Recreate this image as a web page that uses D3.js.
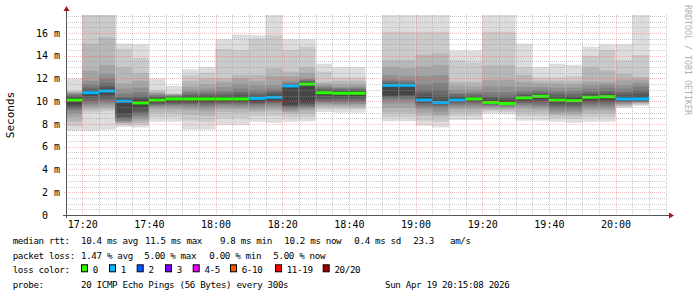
<!DOCTYPE html>
<html>
<head>
<meta charset="utf-8">
<script src="https://cdn.jsdelivr.net/npm/d3@7"></script>
<style>
  body { margin: 0; background: #fff; }
  text { font-family: "DejaVu Sans Mono", monospace; fill: #000; }
</style>
</head>
<body>
<div id="chart"></div>
<script>
// time window of the graph (3 hours, 5 minute steps)
const startTime = new Date(2026, 3, 19, 17, 15, 8);
const endTime = new Date(2026, 3, 19, 20, 15, 8);
const firstStep = new Date(2026, 3, 19, 17, 15, 0);
const stepMinutes = 5;

// median rtt per step (ms), null = no data
const medians = [10.1, 10.75, 10.9, 10.0, 9.85, 10.1, 10.2, 10.2, 10.2, 10.2,
  10.2, 10.25, 10.35, 11.35, 11.5, 10.75, 10.7, 10.7, null, 11.4,
  11.4, 10.1, 9.9, 10.1, 10.2, 9.9, 9.8, 10.3, 10.43, 10.1,
  10.05, 10.35, 10.4, 10.2, 10.2, null];

// lost pings per step (out of 20)
const losses = [0, 1, 1, 1, 0, 0, 0, 0, 0, 0,
  0, 1, 1, 1, 0, 0, 0, 0, null, 1,
  1, 1, 1, 1, 0, 0, 0, 0, 0, 0,
  0, 0, 0, 1, 1, null];

// sorted ping times per step (ms), drawn as the smoke
const pings = [
  [7.4, 7.8, 8.2, 8.6, 8.9, 9.2, 9.35, 9.5, 9.7, 10.0, 10.2, 10.3, 10.4, 10.5, 10.6, 10.7, 10.8, 10.85, 10.93, 12.0],
  [7.4, 9.0, 9.2, 9.4, 9.6, 9.8, 10.0, 10.3, 10.5, 10.7, 10.8, 10.9, 11.0, 11.2, 11.5, 11.8, 12.7, 15.06, 18.5, 19.5],
  [7.5, 9.1, 9.3, 9.5, 9.7, 9.9, 10.1, 10.3, 10.6, 10.85, 10.95, 11.1, 11.3, 11.6, 12.0, 12.4, 13.2, 15.6, 18.5, 19.5],
  [7.74, 7.9, 8.03, 8.1, 8.2, 8.3, 8.47, 8.6, 8.9, 9.9, 10.1, 10.17, 10.25, 10.4, 10.66, 11.1, 11.55, 13.0, 14.62, 15.06],
  [7.7, 7.9, 8.1, 8.3, 8.5, 8.7, 8.9, 9.1, 9.4, 9.75, 9.95, 10.1, 10.3, 10.5, 10.8, 11.2, 11.8, 12.5, 13.8, 15.0],
  [8.2, 8.6, 9.0, 9.3, 9.5, 9.6, 9.7, 9.8, 9.9, 10.05, 10.15, 10.25, 10.35, 10.45, 10.55, 10.65, 10.75, 10.85, 11.0, 12.0],
  [8.2, 8.6, 9.0, 9.3, 9.5, 9.65, 9.75, 9.85, 9.95, 10.1, 10.25, 10.3, 10.4, 10.45, 10.5, 10.55, 10.6, 10.65, 10.7, 11.35],
  [7.5, 8.3, 8.8, 9.2, 9.4, 9.6, 9.75, 9.85, 9.95, 10.1, 10.3, 10.4, 10.5, 10.6, 10.8, 11.0, 11.3, 11.8, 12.3, 12.8],
  [7.5, 8.2, 8.7, 9.1, 9.35, 9.55, 9.7, 9.85, 9.95, 10.1, 10.3, 10.4, 10.5, 10.65, 10.85, 11.1, 11.5, 12.0, 12.5, 13.0],
  [7.9, 8.5, 9.05, 9.3, 9.5, 9.7, 9.8, 9.9, 10.0, 10.1, 10.3, 10.4, 10.5, 10.7, 10.9, 11.25, 11.7, 12.0, 14.6, 15.45],
  [7.9, 8.5, 9.0, 9.3, 9.5, 9.65, 9.8, 9.9, 10.0, 10.1, 10.3, 10.4, 10.6, 10.8, 11.1, 11.5, 12.0, 12.3, 14.5, 15.85],
  [8.2, 8.7, 9.05, 9.2, 9.4, 9.6, 9.75, 9.85, 10.0, 10.2, 10.3, 10.4, 10.5, 10.7, 11.0, 11.4, 11.8, 12.3, 15.5, 15.8],
  [8.1, 8.7, 9.1, 9.3, 9.5, 9.7, 9.85, 9.95, 10.1, 10.3, 10.4, 10.55, 10.7, 10.9, 11.1, 11.4, 12.2, 12.9, 15.8, 18.5],
  [8.2, 8.6, 8.9, 9.05, 9.2, 9.35, 9.5, 9.6, 9.7, 11.3, 11.4, 11.45, 11.5, 11.55, 11.6, 11.8, 12.2, 12.6, 14.5, 15.45],
  [8.24, 8.6, 8.9, 9.2, 9.35, 9.5, 9.6, 9.75, 9.9, 11.45, 11.55, 11.6, 11.7, 11.8, 11.9, 12.0, 12.5, 13.0, 14.8, 15.45],
  [9.05, 9.3, 9.5, 9.65, 9.8, 9.9, 10.0, 10.2, 10.5, 10.7, 10.8, 10.9, 11.0, 11.1, 11.25, 11.4, 11.55, 11.7, 12.6, 13.3],
  [9.0, 9.3, 9.5, 9.6, 9.75, 9.9, 10.05, 10.25, 10.45, 10.65, 10.75, 10.85, 10.95, 11.05, 11.15, 11.25, 11.5, 11.8, 12.1, 13.0],
  [9.0, 9.3, 9.45, 9.6, 9.75, 9.9, 10.05, 10.25, 10.45, 10.65, 10.75, 10.85, 10.95, 11.05, 11.15, 11.3, 11.5, 11.8, 12.1, 13.0],
  null,
  [8.25, 8.6, 9.0, 9.4, 9.8, 10.1, 10.3, 10.4, 10.5, 11.35, 11.45, 11.5, 11.6, 11.7, 11.9, 12.3, 13.0, 13.6, 16.1, 18.5],
  [8.25, 8.6, 9.0, 9.4, 9.8, 10.1, 10.3, 10.45, 10.55, 11.35, 11.45, 11.5, 11.55, 11.65, 11.85, 12.2, 12.9, 13.6, 16.1, 18.5],
  [7.85, 8.3, 8.7, 9.0, 9.3, 9.5, 9.7, 9.85, 9.95, 10.05, 10.15, 10.4, 10.7, 11.0, 11.5, 12.2, 13.05, 14.1, 16.1, 18.5],
  [7.7, 8.2, 8.6, 8.8, 9.1, 9.4, 9.6, 9.75, 9.85, 9.88, 9.92, 10.1, 10.5, 11.0, 11.6, 12.3, 13.2, 14.2, 16.1, 18.5],
  [8.35, 8.7, 9.0, 9.3, 9.5, 9.65, 9.8, 9.9, 10.0, 10.05, 10.15, 10.3, 10.45, 10.6, 10.7, 11.0, 11.4, 11.7, 13.6, 14.45],
  [8.35, 8.7, 9.0, 9.3, 9.5, 9.7, 9.85, 9.95, 10.05, 10.15, 10.25, 10.35, 10.45, 10.6, 10.75, 11.0, 11.3, 11.7, 13.4, 14.45],
  [8.9, 9.1, 9.25, 9.35, 9.5, 9.6, 9.7, 9.8, 9.85, 9.9, 9.95, 10.1, 10.3, 10.5, 10.8, 11.3, 11.85, 13.15, 16.1, 18.5],
  [8.85, 9.05, 9.2, 9.35, 9.45, 9.55, 9.65, 9.7, 9.75, 9.8, 9.85, 10.05, 10.25, 10.5, 10.8, 11.3, 11.9, 13.2, 16.1, 18.5],
  [8.3, 8.7, 9.0, 9.35, 9.55, 9.7, 9.85, 9.95, 10.1, 10.25, 10.35, 10.45, 10.55, 10.7, 10.9, 11.25, 11.7, 12.3, 13.0, 15.06],
  [8.3, 8.7, 9.0, 9.25, 9.45, 9.6, 9.8, 10.0, 10.2, 10.4, 10.46, 10.55, 10.65, 10.8, 11.0, 11.25, 11.55, 11.8, 12.1, 13.0],
  [8.2, 8.5, 8.75, 8.9, 9.1, 9.3, 9.5, 9.7, 9.9, 10.05, 10.15, 10.3, 10.5, 10.7, 10.9, 11.2, 11.55, 11.8, 12.1, 13.3],
  [8.1, 8.45, 8.7, 8.9, 9.1, 9.3, 9.5, 9.7, 9.9, 10.0, 10.1, 10.25, 10.45, 10.65, 10.9, 11.2, 11.5, 11.8, 12.2, 13.2],
  [8.2, 8.6, 8.9, 9.2, 9.4, 9.6, 9.8, 9.95, 10.1, 10.3, 10.4, 10.5, 10.65, 10.8, 11.1, 11.4, 11.7, 13.0, 14.0, 14.8],
  [8.2, 8.6, 8.9, 9.2, 9.4, 9.6, 9.8, 9.95, 10.15, 10.35, 10.45, 10.55, 10.7, 10.9, 11.2, 11.5, 11.7, 12.7, 14.5, 15.0],
  [9.43, 9.5, 9.6, 9.7, 9.8, 9.9, 9.95, 10.0, 10.1, 10.15, 10.25, 10.4, 10.6, 10.8, 11.1, 11.4, 11.9, 12.4, 13.6, 15.0],
  [9.6, 9.7, 9.8, 9.85, 9.9, 9.95, 10.0, 10.05, 10.1, 10.15, 10.25, 10.45, 10.7, 11.0, 11.3, 11.6, 11.9, 12.15, 14.07, 18.5],
  null
];

// loss colour legend
const lossLabels = ["0", "1", "2", "3", "4-5", "6-10", "11-19", "20/20"];
const lossColors = ["#26ff00", "#00b8ff", "#0059ff", "#7e00ff", "#ee00ff", "#ff5500", "#ff0000", "#a10000"];
const lossUpper = [0, 1, 2, 3, 5, 10, 19, 20];

// statistics lines under the graph
const rttStats = ["10.4 ms avg", "11.5 ms max", "9.8 ms min", "10.2 ms now", "0.4 ms sd", "23.3", "am/s"];
const lossStats = ["1.47 % avg", "5.00 % max", "0.00 % min", "5.00 % now"];
const probeText = "20 ICMP Echo Pings (56 Bytes) every 300s";
const stampText = "Sun Apr 19 20:15:08 2026";

const yMax = 17.58;
const yTicks = [0, 2, 4, 6, 8, 10, 12, 14, 16];

const W = 697, H = 297;
const P = { left: 66, right: 666, top: 15, bottom: 215 };

const svg = d3.select("#chart").append("svg")
  .attr("width", W)
  .attr("height", H)
  .style("display", "block");

const x = d3.scaleTime().domain([startTime, endTime]).range([P.left, P.right]);
const y = d3.scaleLinear().domain([0, yMax]).range([P.bottom, P.top]);

svg.append("clipPath").attr("id", "plot")
  .append("rect")
  .attr("x", P.left).attr("y", P.top)
  .attr("width", P.right - P.left).attr("height", P.bottom - P.top);

const steps = medians.map((m, i) => ({
  t0: d3.timeMinute.offset(firstStep, i * stepMinutes),
  t1: d3.timeMinute.offset(firstStep, (i + 1) * stepMinutes),
  median: m,
  loss: losses[i],
  pings: pings[i]
}));

// Smoke: nested bands p[i]..p[n-1-i], darker towards the middle
const plot = svg.append("g").attr("clip-path", "url(#plot)");
const half = 10;
steps.filter(d => d.pings).forEach(d => {
  const n = d.pings.length;
  const x0 = Math.max(x(d.t0), P.left), x1 = x(d.t1);
  for (let ib = 1; ib <= half; ib++) {
    const lo = d.pings[ib - 1], hi = d.pings[n - ib];
    const c = Math.floor(190 / half * (half - ib)) + 50;
    plot.append("rect")
      .attr("x", x0)
      .attr("width", x1 - x0)
      .attr("y", y(hi))
      .attr("height", y(lo) - y(hi))
      .attr("fill", d3.rgb(c, c, c));
  }
});

// median band coloured by loss
function lossColor(l) {
  return lossColors[lossUpper.findIndex(u => l <= u)];
}
plot.selectAll(".median")
  .data(steps.filter(d => d.median !== null))
  .join("rect")
  .attr("class", "median")
  .attr("x", d => Math.max(x(d.t0), P.left))
  .attr("width", d => x(d.t1) - Math.max(x(d.t0), P.left))
  .attr("y", d => y(d.median) - 1.5)
  .attr("height", 3)
  .attr("fill", d => lossColor(d.loss));

// Grid (dotted, on top of the graph)
const grid = svg.append("g").attr("shape-rendering", "crispEdges");
const minorY = d3.range(0.5, yMax, 0.5).filter(v => v % 2 !== 0);
const majorY = yTicks.filter(v => v > 0);
const minorX = x.ticks(d3.timeMinute.every(5)).filter(t => t.getMinutes() % 20 !== 0);
const majorX = x.ticks(d3.timeMinute.every(20));

grid.selectAll(".gy").data(minorY).join("line")
  .attr("x1", P.left).attr("x2", P.right)
  .attr("y1", d => Math.round(y(d)) + 0.5).attr("y2", d => Math.round(y(d)) + 0.5)
  .attr("stroke", "rgba(150,150,150,0.5)").attr("stroke-dasharray", "1,1");
grid.selectAll(".gx").data(minorX).join("line")
  .attr("x1", d => Math.round(x(d)) + 0.5).attr("x2", d => Math.round(x(d)) + 0.5)
  .attr("y1", P.top).attr("y2", P.bottom)
  .attr("stroke", "rgba(150,150,150,0.5)").attr("stroke-dasharray", "1,1");
grid.selectAll(".my").data(majorY).join("line")
  .attr("x1", P.left - 2).attr("x2", P.right)
  .attr("y1", d => Math.round(y(d)) + 0.5).attr("y2", d => Math.round(y(d)) + 0.5)
  .attr("stroke", "rgba(225,90,90,0.4)").attr("stroke-dasharray", "1,1");
grid.selectAll(".mx").data(majorX).join("line")
  .attr("x1", d => Math.round(x(d)) + 0.5).attr("x2", d => Math.round(x(d)) + 0.5)
  .attr("y1", P.top).attr("y2", P.bottom + 2)
  .attr("stroke", "rgba(225,90,90,0.4)").attr("stroke-dasharray", "1,1");

// Axes
const yAxis = d3.axisLeft(y)
  .tickValues(yTicks)
  .tickSize(0)
  .tickPadding(6)
  .tickFormat(d => d === 0 ? "0\u00a0\u00a0" : d + " m");
svg.append("g")
  .attr("transform", `translate(${P.left},0)`)
  .call(yAxis)
  .call(g => g.select(".domain").remove())
  .selectAll("text")
  .style("font-size", "10px")
  .style("font-family", "DejaVu Sans Mono");

const xAxis = d3.axisBottom(x)
  .ticks(d3.timeMinute.every(20))
  .tickSize(0)
  .tickPadding(6)
  .tickFormat(d3.timeFormat("%H:%M"));
svg.append("g")
  .attr("transform", `translate(0,${P.bottom})`)
  .call(xAxis)
  .call(g => g.select(".domain").remove())
  .selectAll("text")
  .style("font-size", "10px")
  .style("font-family", "DejaVu Sans Mono");

// axis lines with arrows
svg.append("line")
  .attr("x1", P.left - 3).attr("x2", P.right + 4)
  .attr("y1", P.bottom + 0.5).attr("y2", P.bottom + 0.5)
  .attr("stroke", "#555");
svg.append("line")
  .attr("x1", P.left + 0.5).attr("x2", P.left + 0.5)
  .attr("y1", P.bottom + 3).attr("y2", P.top - 5)
  .attr("stroke", "#555");
svg.append("path")
  .attr("d", `M${P.right + 3},${P.bottom - 2.5} L${P.right + 8},${P.bottom + 0.5} L${P.right + 3},${P.bottom + 3.5} Z`)
  .attr("fill", "#a01818");
svg.append("path")
  .attr("d", `M${P.left - 2.5},${P.top - 4} L${P.left + 0.5},${P.top - 9} L${P.left + 3.5},${P.top - 4} Z`)
  .attr("fill", "#a01818");

// Titles
svg.append("text")
  .attr("transform", `translate(13.5,${(P.top + P.bottom) / 2}) rotate(-90)`)
  .attr("text-anchor", "middle")
  .style("font-size", "11px")
  .text("Seconds");

svg.append("text")
  .attr("transform", "translate(685,5) rotate(90)")
  .attr("text-anchor", "start")
  .style("font-size", "8.3px")
  .style("fill", "#b0b0b0")
  .text("RRDTOOL / TOBI OETIKER");

// Legend rows
const legend = svg.append("g")
  .style("font-size", "9.2px")
  .style("letter-spacing", "-0.35px");
const rowY = [244.3, 258.8, 273.3, 287.6];
const leftX = 12.7, valX = 81;

legend.append("text").attr("x", leftX).attr("y", rowY[0]).text("median rtt:");
const rttX = [81, 145, 220, 284.3, 354.3, 413.3, 450];
rttStats.forEach((s, i) => legend.append("text").attr("x", rttX[i]).attr("y", rowY[0]).text(s));

legend.append("text").attr("x", leftX).attr("y", rowY[1]).text("packet loss:");
const lossX = [81, 144.3, 209.3, 273.3];
lossStats.forEach((s, i) => legend.append("text").attr("x", lossX[i]).attr("y", rowY[1]).text(s));

legend.append("text").attr("x", leftX).attr("y", rowY[2]).text("loss color:");
const boxX = [81, 109, 136.7, 165, 192.7, 230, 275, 322.7];
lossLabels.forEach((s, i) => {
  legend.append("rect")
    .attr("x", boxX[i] + 0.5).attr("y", rowY[2] - 8.5)
    .attr("width", 6).attr("height", 7)
    .attr("fill", lossColors[i])
    .attr("stroke", "#000").attr("stroke-width", 1);
  legend.append("text").attr("x", boxX[i] + 11.7).attr("y", rowY[2]).text(s);
});

legend.append("text").attr("x", leftX).attr("y", rowY[3]).text("probe:");
legend.append("text").attr("x", valX).attr("y", rowY[3]).text(probeText);
legend.append("text").attr("x", 385).attr("y", rowY[3]).text(stampText);
</script>
</body>
</html>
